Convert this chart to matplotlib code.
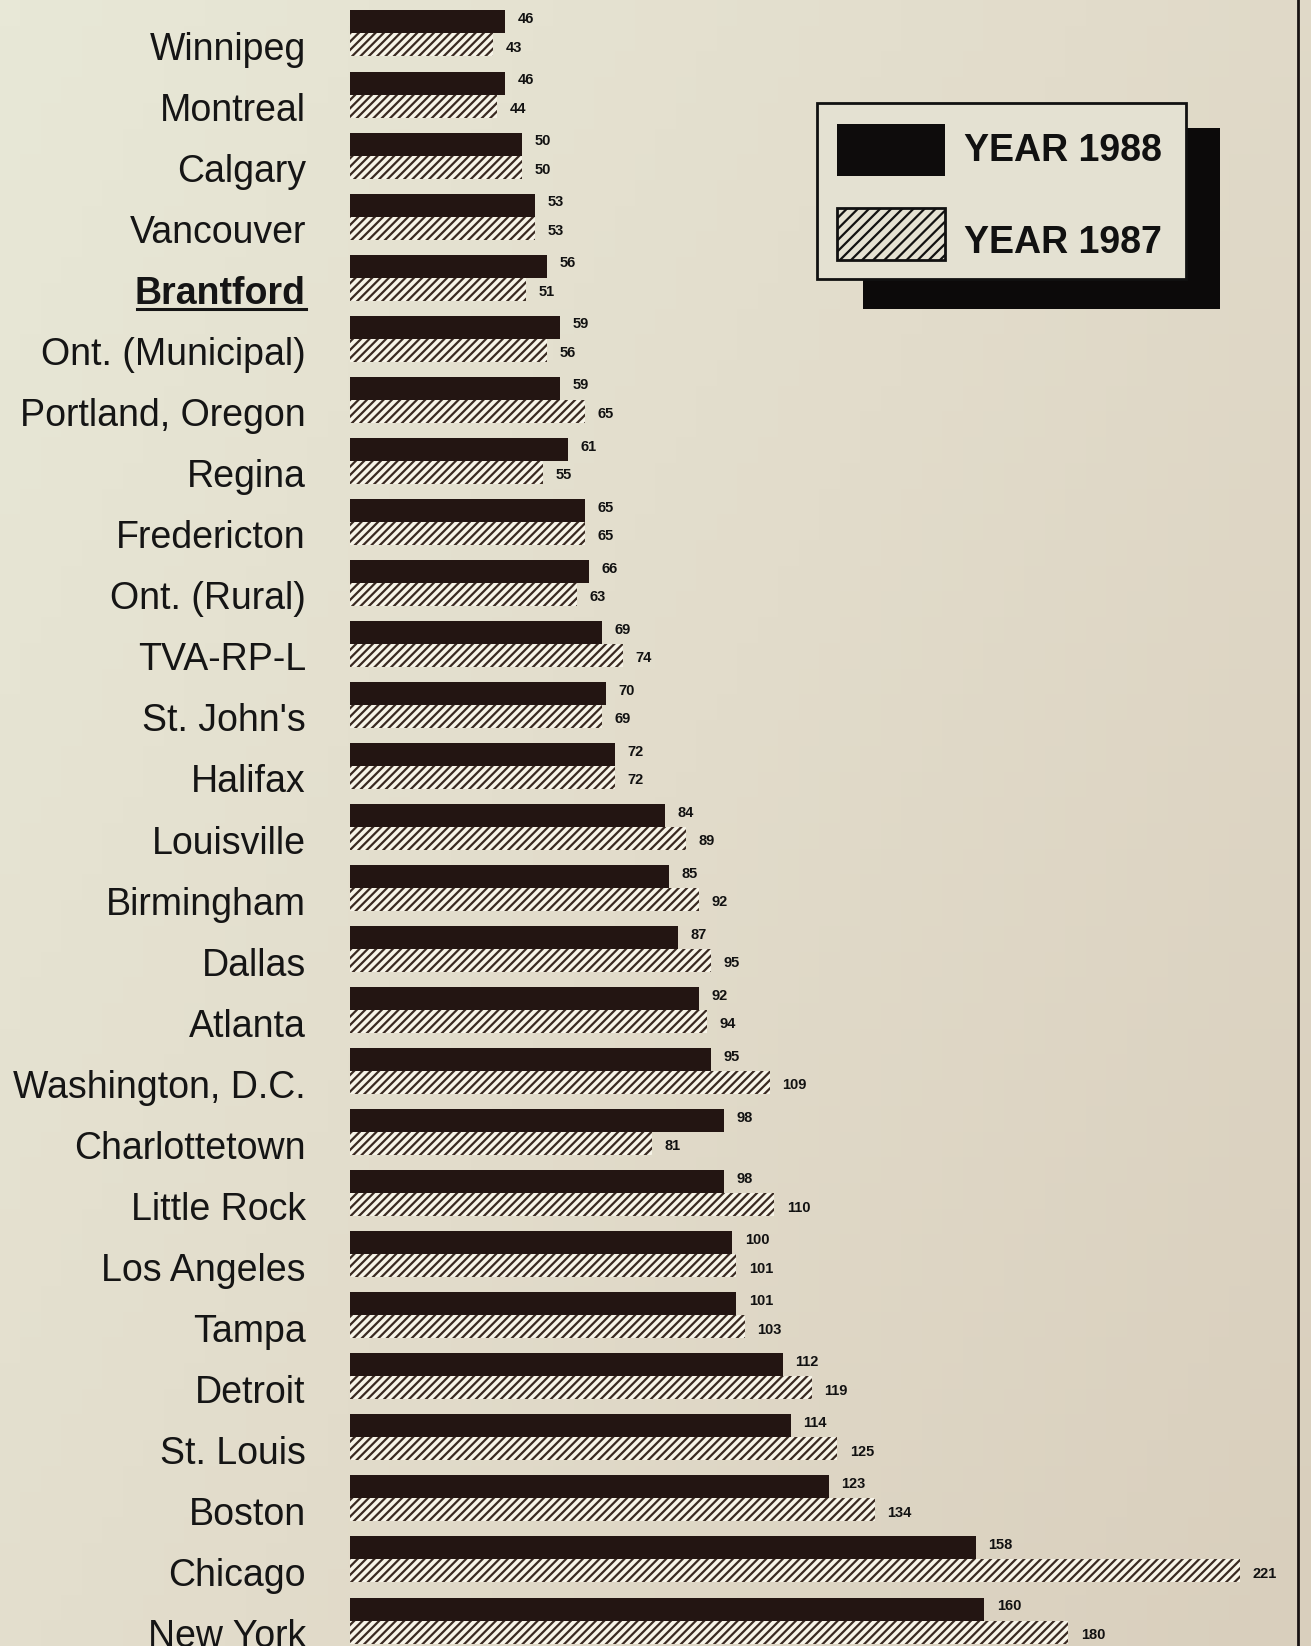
import numpy as np
import matplotlib.pyplot as plt
from matplotlib.patches import Rectangle
from matplotlib.colors import LinearSegmentedColormap

plt.rcParams['font.family'] = ['Liberation Sans', 'DejaVu Sans']
plt.rcParams['hatch.linewidth'] = 1.6

# data
cities = ['Winnipeg', 'Montreal', 'Calgary', 'Vancouver', 'Brantford',
          'Ont. (Municipal)', 'Portland, Oregon', 'Regina', 'Fredericton',
          'Ont. (Rural)', 'TVA-RP-L', "St. John's", 'Halifax', 'Louisville',
          'Birmingham', 'Dallas', 'Atlanta', 'Washington, D.C.', 'Charlottetown',
          'Little Rock', 'Los Angeles', 'Tampa', 'Detroit', 'St. Louis',
          'Boston', 'Chicago', 'New York']
year_1988 = [46, 46, 50, 53, 56, 59, 59, 61, 65, 66, 69, 70, 72, 84, 85, 87,
             92, 95, 98, 98, 100, 101, 112, 114, 123, 158, 160]
year_1987 = [43, 44, 50, 53, 51, 56, 65, 55, 65, 63, 74, 69, 72, 89, 92, 95,
             94, 109, 81, 110, 101, 103, 119, 125, 134, 221, 180]

W, H = 1311, 1646
bg = '#e3dfcf'
dark = '#231512'
hatch_fg = '#3a2a22'

fig = plt.figure(figsize=(W / 100, H / 100), dpi=100)
fig.patch.set_facecolor(bg)

# paper background: lighter, slightly green at top left, warmer at bottom right
bgax = fig.add_axes([0, 0, 1, 1])
bgax.axis('off')
gx, gy = np.meshgrid(np.linspace(0, 1, 64), np.linspace(0, 1, 64))
paper = LinearSegmentedColormap.from_list('paper', ['#e8e8d7', '#e2dccb', '#d9cfbd'])
bgax.imshow(0.6 * gx + 0.4 * gy, cmap=paper, aspect='auto', extent=[0, 1, 1, 0])

# main bar axes (spans from bar start to right edge, full height)
ax = fig.add_axes([350 / W, 0, 1 - 350 / W, 1])
ax.set_facecolor('none')
px_per_unit = 4.2
x0 = 9
ax.set_xlim(x0, x0 + (W - 350) / px_per_unit)
pitch = 61.04
ax.set_ylim((H - 33.5) / pitch, -33.5 / pitch)
ax.axis('off')

y = np.arange(len(cities))
bh = 23 / pitch
ax.barh(y - bh / 2, year_1988, height=bh, color=dark, linewidth=0)
ax.barh(y + bh / 2, year_1987, height=bh, color='#f7f4e8', edgecolor=hatch_fg,
        hatch='////', linewidth=0)

for i in range(len(cities)):
    ax.annotate(str(year_1988[i]), (year_1988[i], y[i] - bh / 2),
                xytext=(9, 2), textcoords='offset points', ha='left', va='center',
                fontsize=10.5, fontweight='bold', color='#111111')
    ax.annotate(str(year_1987[i]), (year_1987[i], y[i] + bh / 2),
                xytext=(9, -2), textcoords='offset points', ha='left', va='center',
                fontsize=10.5, fontweight='bold', color='#111111')
    bold = cities[i] == 'Brantford'
    ax.text(-0.046, y[i] + 0.27, cities[i], transform=ax.get_yaxis_transform(),
            ha='right', va='center', fontsize=27, color='#151515',
            fontweight='bold' if bold else 'normal')
    if bold:
        # underline under Brantford
        ax.plot([-0.222, -0.046], [y[i] + 0.52, y[i] + 0.52],
                transform=ax.get_yaxis_transform(), color='#151515', lw=2.2,
                clip_on=False)

# overlay in pixel coordinates for legend and page border
ov = fig.add_axes([0, 0, 1, 1])
ov.set_xlim(0, W)
ov.set_ylim(H, 0)
ov.axis('off')
ov.set_facecolor('none')

ov.add_patch(Rectangle((863, 128), 357, 181, facecolor='#0c0a0a', edgecolor='none'))
ov.add_patch(Rectangle((817, 103), 369, 176, facecolor='#e4e1d2', edgecolor='#111111', lw=2))
ov.add_patch(Rectangle((837, 124), 108, 52, facecolor='#0e0c0c', edgecolor='none'))
ov.add_patch(Rectangle((837, 208), 108, 52, facecolor='#e4e1d2', edgecolor='#111111',
                       hatch='///', lw=2))
ov.text(964, 151, 'YEAR 1988', fontsize=27, fontweight='bold', va='center',
        ha='left', color='#111111')
ov.text(964, 243, 'YEAR 1987', fontsize=27, fontweight='bold', va='center',
        ha='left', color='#111111')

ov.plot([1298, 1298], [0, H], color='#1a1414', lw=2)

fig.savefig('out.png', dpi=100, facecolor=bg)
